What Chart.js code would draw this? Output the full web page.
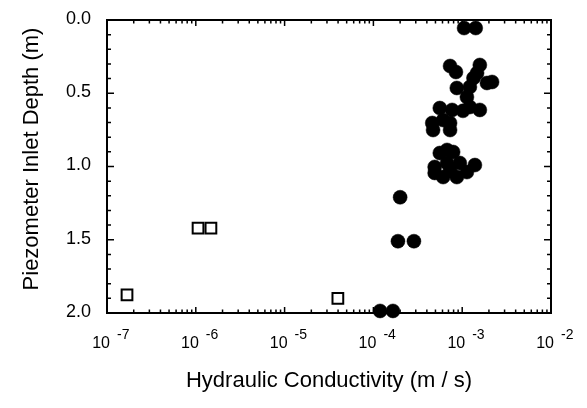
<!DOCTYPE html>
<html>
<head>
<meta charset="utf-8">
<script src="https://cdn.jsdelivr.net/npm/chart.js@4"></script>
<style>
  body { margin: 0; background: #fff; }
  #wrap { width: 587px; height: 408px; position: relative; }
</style>
</head>
<body>
<div id="wrap"><canvas id="kChart"></canvas></div>
<script>
// Filled circles: hydraulic conductivity (m/s) and inlet depth (m)
const circleK = [
  1.05e-3, 1.42e-3,
  7.3e-4, 8.5e-4, 1.58e-3, 1.47e-3, 2.17e-3, 1.9e-3, 8.7e-4, 1.22e-3, 1.13e-3,
  1.34e-3, 1.02e-3,
  5.6e-4, 7.7e-4, 1.58e-3, 1.22e-3, 4.6e-4, 4.7e-4, 7.3e-4, 7.3e-4, 6.1e-4,
  6.75e-4, 5.6e-4, 7.9e-4, 4.9e-4, 1.39e-3, 4.9e-4, 6.1e-4, 8.7e-4, 1.13e-3,
  6.75e-4, 9.4e-4, 7.3e-4,
  2.0e-4, 1.89e-4, 2.86e-4, 1.19e-4, 1.66e-4
];
const circleDepth = [
  0.055, 0.055,
  0.314, 0.355, 0.307, 0.362, 0.423, 0.43, 0.464, 0.457, 0.526,
  0.396, 0.62,
  0.601, 0.614, 0.614, 0.594, 0.703, 0.751, 0.703, 0.751, 0.683,
  0.887, 0.908, 0.901, 1.003, 0.99, 1.044, 1.072, 1.072, 1.038,
  0.976, 0.976, 1.024,
  1.21, 1.51, 1.51, 1.986, 1.986
];

// Open squares
const squareK = [1.68e-7, 1.06e-6, 1.48e-6, 3.98e-5];
const squareDepth = [1.877, 1.42, 1.42, 1.90];

// Axis ticks
const xTickExps = [-7, -6, -5, -4, -3, -2];
const yTickValues = [0, 0.5, 1, 1.5, 2];
const yTickLabels = ["0.0", "0.5", "1.0", "1.5", "2.0"];

const FONT = '"Liberation Sans", Arial, Helvetica, sans-serif';

function toPoints(xs, ys) {
  return xs.map((v, i) => ({ x: v, y: ys[i] }));
}

// Frame, inward ticks, tick labels and axis titles
const axisDecor = {
  id: "axisDecor",
  beforeDatasetsDraw(chart) {
    const { ctx, chartArea: a, scales: { x, y } } = chart;
    ctx.save();
    ctx.strokeStyle = "#000";
    ctx.lineWidth = 2;
    ctx.strokeRect(a.left, a.top, a.right - a.left, a.bottom - a.top);

    ctx.lineWidth = 1.5;
    ctx.beginPath();
    xTickExps.forEach(e => {
      for (let m = 1; m < 10; m++) {
        if (e === -2 && m > 1) break;
        const px = x.getPixelForValue(m * Math.pow(10, e));
        const len = m === 1 ? 6 : 3.5;
        ctx.moveTo(px, a.bottom); ctx.lineTo(px, a.bottom - len);
        ctx.moveTo(px, a.top); ctx.lineTo(px, a.top + len);
      }
    });
    for (let i = 0; i <= 20; i++) {
      const py = y.getPixelForValue(i / 10);
      const len = i % 5 === 0 ? 7 : 4;
      ctx.moveTo(a.left, py); ctx.lineTo(a.left + len, py);
      ctx.moveTo(a.right, py); ctx.lineTo(a.right - len, py);
    }
    ctx.stroke();
    ctx.restore();
  },
  afterDraw(chart) {
    const { ctx, chartArea: a, scales: { x, y } } = chart;
    ctx.save();
    ctx.fillStyle = "#000";

    // x tick labels: 10 with raised exponent
    xTickExps.forEach(e => {
      const px = x.getPixelForValue(Math.pow(10, e));
      ctx.font = "16px " + FONT;
      ctx.textAlign = "right";
      ctx.textBaseline = "alphabetic";
      ctx.fillText("10", px + 3, a.bottom + 35);
      ctx.font = "14px " + FONT;
      ctx.textAlign = "left";
      ctx.fillText(String(e), px + 10, a.bottom + 26);
    });

    // y tick labels
    ctx.font = "18px " + FONT;
    ctx.textAlign = "right";
    ctx.textBaseline = "middle";
    yTickValues.forEach((v, i) => {
      ctx.fillText(yTickLabels[i], a.left - 16, y.getPixelForValue(v) - 1);
    });

    // axis titles
    ctx.font = "22px " + FONT;
    ctx.textAlign = "center";
    ctx.textBaseline = "middle";
    ctx.fillText("Hydraulic Conductivity (m / s)", (a.left + a.right) / 2, 381);
    ctx.translate(32, 159);
    ctx.rotate(-Math.PI / 2);
    ctx.fillText("Piezometer Inlet Depth (m)", 0, 0);
    ctx.restore();
  }
};

const ctx = document.getElementById("kChart").getContext("2d");

let kChart = new Chart(ctx, {
  type: "scatter",
  data: {
    datasets: [
      {
        label: "circles",
        data: toPoints(circleK, circleDepth),
        pointStyle: "circle",
        pointRadius: 7,
        backgroundColor: "#000",
        borderColor: "#000",
        borderWidth: 0.5,
        clip: false
      },
      {
        label: "squares",
        data: toPoints(squareK, squareDepth),
        pointStyle: "rect",
        pointRadius: 7.6,
        backgroundColor: "#fff",
        borderColor: "#000",
        borderWidth: 2,
        clip: false
      }
    ]
  },
  options: {
    responsive: true,
    maintainAspectRatio: false,
    animation: false,
    layout: { padding: { left: 107, right: 36, top: 20, bottom: 95 } },
    plugins: {
      legend: { display: false },
      tooltip: { enabled: false }
    },
    scales: {
      x: { type: "logarithmic", min: 1e-7, max: 1e-2, display: false },
      y: { type: "linear", min: 0, max: 2, reverse: true, display: false }
    }
  },
  plugins: [axisDecor]
});
</script>
</body>
</html>
